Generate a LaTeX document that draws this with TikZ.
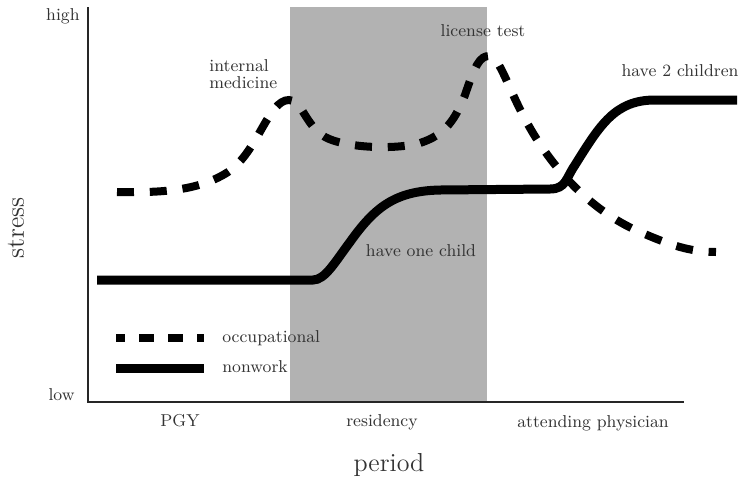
\documentclass[tikz,border=0pt]{standalone}
\usepackage{tikz}
\usetikzlibrary{positioning}
\tikzset{
  stress axis/.style={black!85,line width=1pt},
  stress band/.style={fill=black!30,draw=none},
  stress occupational/.style={line width=4pt,dash pattern=on 8.5pt off 7.9pt},
  stress nonwork/.style={line width=4.5pt},
  stress note/.style={font=\fontsize{8.6}{8.6}\selectfont,text=black!80,inner sep=0pt},
  stress title/.style={font=\fontsize{13}{13}\selectfont,text=black!80,inner sep=0pt}
}

\begin{document}
\begin{tikzpicture}[x=0.5pt,y=-0.5pt]
\useasboundingbox (0,0) rectangle (740,478);
\fill[stress band] (290,7) rectangle (487,402);
\coordinate (origin) at (88,402);
\coordinate (ytop) at (88,7);
\coordinate (xend) at (684,402);
\draw[stress axis] (ytop) -- (origin) -- (xend);
\node[stress note,anchor=base east] (high) at (80,20) {high};
\node[stress note,anchor=base east] (low) at (75,400) {low};
\node[stress note,anchor=base] (pgy) at (180,426) {PGY};
\node[stress note,anchor=base] (residency) at (382,426) {residency};
\node[stress note,anchor=base] (attending) at (593,427) {attending physician};
\node[stress title,anchor=base] (period) at (389,471) {period};
\node[stress title,rotate=90] (stress) at (16,228) {stress};
% occupational stress
\draw[stress occupational] (117,192) .. controls (165,193) and (200,190) .. (228,172)
  .. controls (258,152) and (268,100) .. (289,100)
  .. controls (302,100) and (305,125) .. (325,137)
  .. controls (345,148) and (395,150) .. (420,143)
  .. controls (445,135) and (455,120) .. (465,95)
  .. controls (475,65) and (480,56) .. (489,56)
  .. controls (500,56) and (508,90) .. (530,128)
  .. controls (560,180) and (600,215) .. (640,232)
  .. controls (670,245) and (690,252) .. (716,252);
% nonwork stress
\draw[stress nonwork] (97,280) -- (313,280) .. controls (325,280) and (335,262) .. (350,242)
  .. controls (375,207) and (395,191) .. (440,190) -- (550,189)
  .. controls (566,189) and (566,178) .. (575,165)
  .. controls (600,125) and (615,100) .. (655,100) -- (737,100);
\node[stress note,align=left,anchor=north west] (internal) at (209,59) {internal\\medicine};
\node[stress note,anchor=base] (license) at (483,36) {license test};
\node[stress note,anchor=base] (twochildren) at (680,76) {have 2 children};
\node[stress note,anchor=base] (onechild) at (421,256) {have one child};
% legend
\coordinate (occ a) at (116,338);
\coordinate (occ b) at (204,338);
\coordinate (non a) at (116,368);
\coordinate (non b) at (204,368);
\draw[line width=4pt,dash pattern=on 7.5pt off 7pt,dash phase=3pt] (occ a) -- (occ b);
\draw[stress nonwork] (non a) -- (non b);
\node[stress note,anchor=base west] (occlabel) at (222,342) {occupational};
\node[stress note,anchor=base west] (nonlabel) at (222,372) {nonwork};
\end{tikzpicture}
\end{document}
